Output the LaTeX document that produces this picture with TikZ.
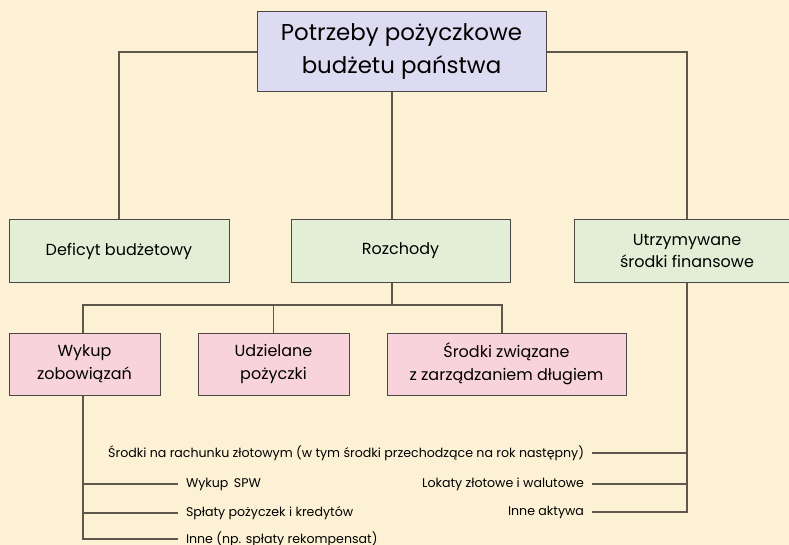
\documentclass[tikz,border=0pt]{standalone}
\usepackage{fontspec}
\setmainfont{Poppins}
\definecolor{bgc}{HTML}{FDF1D5}
\definecolor{lav}{HTML}{DDDBF1}
\definecolor{grn}{HTML}{E2EED5}
\definecolor{pnk}{HTML}{F9D3DC}
\definecolor{bord}{HTML}{4A4744}
\definecolor{conn}{HTML}{5E574B}
\begin{document}
\begin{tikzpicture}[x=1pt,y=-1pt,
  box/.style={draw=bord,line width=1pt,rectangle,align=center,inner sep=0pt,
     font=\fontsize{16}{22}\selectfont},
  ln/.style={draw=conn,line width=1.15pt},
  lbl/.style={inner sep=0pt,outer xsep=8pt,font=\fontsize{12.6}{14}\selectfont}]
\path[use as bounding box,fill=bgc] (0,0) rectangle (789,545);
\begin{scope}
\clip (0,0) rectangle (789,545);
\coordinate (rozx) at (392,0);
\coordinate (bus) at (0,305);
\coordinate (b1) at (83,305);
\coordinate (b3) at (502,305);
\coordinate (lend) at (83,539);
\coordinate (rend) at (687,512);

\node[box,fill=lav,minimum width=289pt,minimum height=80pt,font=\fontsize{22.9}{33}\selectfont] (top) at (401.5,52) {Potrzeby pożyczkowe\\budżetu państwa};
\node[box,fill=grn,minimum width=220pt,minimum height=62pt] (def) at (119,251) {Deficyt budżetowy};
\node[box,fill=grn,minimum width=219pt,minimum height=62pt] (roz) at (400.5,251) {Rozchody};
\node[box,fill=grn,minimum width=225pt,minimum height=62pt] (utr) at (687,251) {Utrzymywane\\środki finansowe};
\node[box,fill=pnk,minimum width=151pt,minimum height=62pt,font=\fontsize{16}{23}\selectfont] (wyk) at (84.5,364) {Wykup\\zobowiązań};
\node[box,fill=pnk,minimum width=151pt,minimum height=62pt,font=\fontsize{16}{23}\selectfont] (udz) at (273.5,364) {Udzielane\\pożyczki};
\node[box,fill=pnk,minimum width=239pt,minimum height=62pt,font=\fontsize{16}{23}\selectfont] (sro) at (506.5,364) {Środki związane\\z zarządzaniem długiem};

\node[lbl,anchor=west] (w1) at (178,484) {Wykup\, SPW};
\node[lbl,anchor=west] (w2) at (178,513) {Spłaty pożyczek i kredytów};
\node[lbl,anchor=west] (w3) at (178,539) {Inne (np. spłaty rekompensat)};
\node[lbl,anchor=east] (r1) at (592,453) {Środki na rachunku złotowym (w tym środki przechodzące na rok następny)};
\node[lbl,anchor=east] (r2) at (592,484) {Lokaty złotowe i walutowe};
\node[lbl,anchor=east] (r3) at (592,512) {Inne aktywa};

% connectors
\draw[ln] (def.north) |- (top.west);
\draw[ln] (utr.north) |- (top.east);
\draw[ln] (top.south -| rozx) -- (roz.north -| rozx);
\draw[ln] (roz.south -| rozx) -- (bus -| rozx);
\draw[ln] (wyk.north -| b1) -- (b1) -- (b3) -- (sro.north -| b3);
\draw[ln] (udz.north) -- (udz.north |- bus);
\draw[ln] (wyk.south -| lend) -- (lend) -- (w3.west);
\draw[ln] (w1.west -| lend) -- (w1.west);
\draw[ln] (w2.west -| lend) -- (w2.west);
\draw[ln] (utr.south -| rend) -- (rend) -- (r3.east);
\draw[ln] (r1.east -| rend) -- (r1.east);
\draw[ln] (r2.east -| rend) -- (r2.east);
\end{scope}
\end{tikzpicture}
\end{document}
